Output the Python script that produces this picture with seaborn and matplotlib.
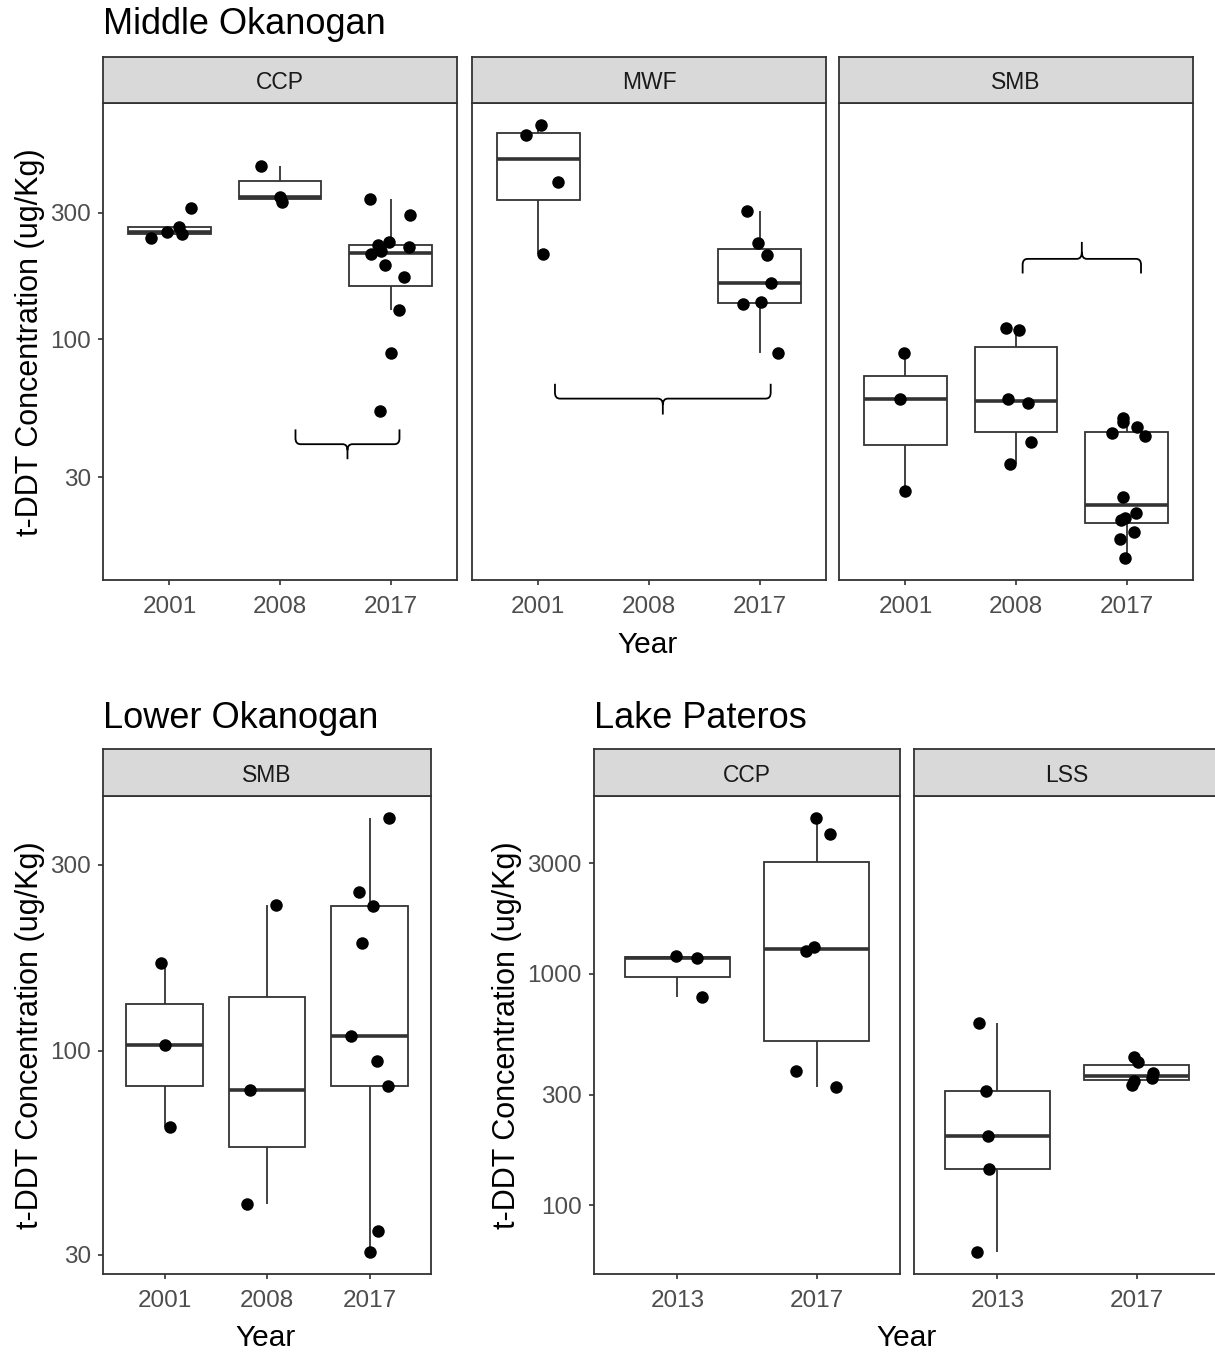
import numpy as np
import pandas as pd
import matplotlib
matplotlib.use("Agg")
import matplotlib.pyplot as plt
from matplotlib.path import Path
from matplotlib.patches import PathPatch
from matplotlib.ticker import NullLocator
import seaborn as sns

sns.set_theme(style="white")
plt.rcParams["font.family"] = ["Liberation Sans", "DejaVu Sans"]

# t-DDT concentration in fish tissue (ug/Kg), by reach, species and year
mid_ccp_2001 = [242, 250, 254, 265, 314]
mid_ccp_2008 = [331, 345, 451]
mid_ccp_2017 = [53.3, 88.3, 128.5, 171, 191, 209, 216, 222, 226, 232, 294, 338]
mid_mwf_2001 = [210, 393, 590, 647]
mid_mwf_2017 = [88.9, 135.4, 138, 163, 207, 230, 305]
mid_smb_2001 = [26.7, 59.3, 88.4]
mid_smb_2008 = [33.8, 40.8, 57.3, 59.3, 108, 110]
mid_smb_2017 = [14.8, 17.5, 18.6, 20.6, 21.1, 22.0, 25.2, 43.0, 44.0, 46.6, 48.6, 50.3]

low_smb_2001 = [63.6, 103.4, 168]
low_smb_2008 = [40.5, 79.2, 237]
low_smb_2017 = [30.4, 34.5, 81.3, 94.3, 109.3, 189, 235, 255, 396]

pat_ccp_2013 = [795, 1170, 1195]
pat_ccp_2017 = [324, 379, 1251, 1311, 4010, 4730]
pat_lss_2013 = [62.5, 143.3, 199.5, 311, 615]
pat_lss_2017 = [332, 344, 353, 373, 416, 437]

mid_years = ["2001", "2008", "2017"]
low_years = ["2001", "2008", "2017"]
pat_years = ["2013", "2017"]

mid_ticks = [30, 100, 300]
low_ticks = [30, 100, 300]
pat_ticks = [100, 300, 1000, 3000]

records = [
    ("Middle Okanogan", "CCP", "2001", mid_ccp_2001),
    ("Middle Okanogan", "CCP", "2008", mid_ccp_2008),
    ("Middle Okanogan", "CCP", "2017", mid_ccp_2017),
    ("Middle Okanogan", "MWF", "2001", mid_mwf_2001),
    ("Middle Okanogan", "MWF", "2017", mid_mwf_2017),
    ("Middle Okanogan", "SMB", "2001", mid_smb_2001),
    ("Middle Okanogan", "SMB", "2008", mid_smb_2008),
    ("Middle Okanogan", "SMB", "2017", mid_smb_2017),
    ("Lower Okanogan", "SMB", "2001", low_smb_2001),
    ("Lower Okanogan", "SMB", "2008", low_smb_2008),
    ("Lower Okanogan", "SMB", "2017", low_smb_2017),
    ("Lake Pateros", "CCP", "2013", pat_ccp_2013),
    ("Lake Pateros", "CCP", "2017", pat_ccp_2017),
    ("Lake Pateros", "LSS", "2013", pat_lss_2013),
    ("Lake Pateros", "LSS", "2017", pat_lss_2017),
]
df = pd.DataFrame(
    [(r, s, y, v) for r, s, y, vals in records for v in vals],
    columns=["reach", "species", "year", "tddt"],
)

LINE = "#333333"
TICK_TXT = "#4D4D4D"
STRIP_BG = "#D9D9D9"
W, H = 1215, 1352

fig = plt.figure(figsize=(W / 100, H / 100), dpi=100)
np.random.seed(7)


def rect(x, y_top, w, h):
    return [x / W, 1 - (y_top + h) / H, w / W, h / H]


def log_limits(values, pad=0.05):
    lo, hi = np.log10(min(values)), np.log10(max(values))
    span = hi - lo
    return 10 ** (lo - pad * span), 10 ** (hi + pad * span)


def brace(ax, x0, x1, y, y_end, y_tip, r=0.045):
    xc = (x0 + x1) / 2

    def toward(a, b, f):
        return a * (b / a) ** f

    ye = toward(y, y_end, 0.4)
    yt = toward(y, y_tip, 0.4)
    M, L, C = Path.MOVETO, Path.LINETO, Path.CURVE3
    verts = [
        (x0, y_end), (x0, ye), (x0, y), (x0 + r, y),
        (xc - r, y), (xc, y), (xc, yt), (xc, y_tip),
        (xc, yt), (xc, y), (xc + r, y),
        (x1 - r, y), (x1, y), (x1, ye), (x1, y_end),
    ]
    codes = [M, L, C, C, L, C, C, L, M, C, C, L, C, C, L]
    ax.add_patch(PathPatch(Path(verts, codes), fill=False, edgecolor="black",
                           linewidth=1.3, clip_on=False, zorder=5))


def panel(x, y_top, w, h, strip_h, reach, species, order, ticks, show_y):
    sub = df[(df.reach == reach) & (df.species == species)]
    ax = fig.add_axes(rect(x, y_top + strip_h, w, h))
    sns.boxplot(data=sub, x="year", y="tddt", order=order, ax=ax,
                color="white", linecolor=LINE, linewidth=1.3, width=0.75,
                showfliers=False, log_scale=True,
                medianprops=dict(linewidth=2.6),
                capprops=dict(visible=False))
    sns.stripplot(data=sub, x="year", y="tddt", order=order, ax=ax,
                  color="black", size=9, jitter=0.2, linewidth=0,
                  log_scale=True)
    ax.set_xlim(-0.6, len(order) - 1 + 0.6)
    ax.set_ylim(*log_limits(df[df.reach == reach].tddt))
    ax.set_yticks(ticks)
    ax.set_yticklabels([str(t) for t in ticks])
    ax.yaxis.set_minor_locator(NullLocator())
    ax.set_xlabel("")
    ax.set_ylabel("")
    for sp in ax.spines.values():
        sp.set_visible(True)
        sp.set_color(LINE)
        sp.set_linewidth(1.3)
    ax.tick_params(axis="both", which="major", direction="out", length=3.8,
                   width=1.2, color=LINE, labelcolor=TICK_TXT,
                   labelsize=17.5, bottom=True, left=show_y,
                   labelleft=show_y)
    ax.tick_params(axis="y", pad=5)
    ax.tick_params(axis="x", pad=8)

    sax = fig.add_axes(rect(x, y_top, w, strip_h))
    sax.set_facecolor(STRIP_BG)
    sax.set_xticks([])
    sax.set_yticks([])
    for sp in sax.spines.values():
        sp.set_visible(True)
        sp.set_color(LINE)
        sp.set_linewidth(1.3)
    sax.text(0.5, 0.44, species, ha="center", va="center", fontsize=16.5,
             color="#1A1A1A", transform=sax.transAxes)
    return ax


YLAB = "t-DDT Concentration (ug/Kg)"

# Middle Okanogan
ax_m1 = panel(103, 57, 354, 477, 46, "Middle Okanogan", "CCP", mid_years, mid_ticks, True)
ax_m2 = panel(472, 57, 354, 477, 46, "Middle Okanogan", "MWF", mid_years, mid_ticks, False)
ax_m3 = panel(839, 57, 354, 477, 46, "Middle Okanogan", "SMB", mid_years, mid_ticks, False)
brace(ax_m1, 1.14, 2.08, 40, 45.5, 35.1)
brace(ax_m2, 0.15, 2.10, 59.5, 67.7, 51.8)
brace(ax_m3, 1.06, 2.13, 201, 177, 233)

# Lower Okanogan
ax_l1 = panel(103, 749, 328, 478, 47, "Lower Okanogan", "SMB", low_years, low_ticks, True)

# Lake Pateros
ax_p1 = panel(594, 749, 306, 478, 47, "Lake Pateros", "CCP", pat_years, pat_ticks, True)
ax_p2 = panel(914, 749, 306, 478, 47, "Lake Pateros", "LSS", pat_years, pat_ticks, False)


def ftext(px, py, s, **kw):
    fig.text(px / W, 1 - py / H, s, **kw)


ftext(103, 25, "Middle Okanogan", fontsize=26, ha="left", va="center", color="black")
ftext(103, 719, "Lower Okanogan", fontsize=26, ha="left", va="center", color="black")
ftext(594, 719, "Lake Pateros", fontsize=26, ha="left", va="center", color="black")

ftext(30, 342, YLAB, fontsize=22, rotation=90, ha="center", va="center", color="black")
ftext(30, 1035, YLAB, fontsize=22, rotation=90, ha="center", va="center", color="black")
ftext(507, 1035, YLAB, fontsize=22, rotation=90, ha="center", va="center", color="black")

ftext(648, 645, "Year", fontsize=21.5, ha="center", va="center", color="black")
ftext(266, 1338, "Year", fontsize=21.5, ha="center", va="center", color="black")
ftext(907, 1338, "Year", fontsize=21.5, ha="center", va="center", color="black")

fig.savefig("out.png", dpi=100, facecolor="white")
